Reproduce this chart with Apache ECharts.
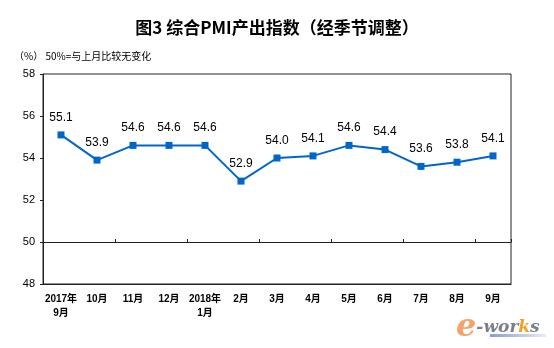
<!DOCTYPE html>
<html><head><meta charset="utf-8">
<script src="https://cdn.jsdelivr.net/npm/echarts@6/dist/echarts.min.js"></script>
<style>html,body{margin:0;padding:0;background:#fff}#c{width:554px;height:348px}</style>
</head><body><div id="c"></div>
<script>
const categories = ['2017年\n9月','10月','11月','12月','2018年\n1月','2月','3月','4月','5月','6月','7月','8月','9月'];
const values = [55.1, 53.9, 54.6, 54.6, 54.6, 52.9, 54.0, 54.1, 54.6, 54.4, 53.6, 53.8, 54.1];
const yTicks = [48, 50, 52, 54, 56, 58];
const titleText = '图3 综合PMI产出指数（经季节调整）';
const noteText = '（%） 50%=与上月比较无变化';

const chart = echarts.init(document.getElementById('c'), null, {renderer: 'canvas'});
const ff = '"Liberation Sans", Arial, "Noto Sans CJK SC", sans-serif';
chart.setOption({
  animation: false,
  backgroundColor: '#fff',
  title: {
    text: titleText, left: 'center', top: 14,
    textStyle: {fontSize: 17, fontWeight: 'bold', color: '#000', fontFamily: '"Noto Sans CJK SC", sans-serif'}
  },
  graphic: [
    {type: 'text', left: 14, top: 51, style: {text: noteText, fontSize: 10, fill: '#000', fontFamily: '"Noto Sans CJK SC", sans-serif'}},
    {type: 'rect', left: 490, top: 334, shape: {width: 56, height: 3}, style: {
      fill: new echarts.graphic.LinearGradient(0, 0, 1, 0, [{offset: 0, color: '#8a9ad0'}, {offset: 1, color: '#e8ecf6'}])
    }},
    {type: 'text', left: 456, top: 312, style: {
      text: '{e|e}{w|-wor}{k|k}{w|s}',
      rich: {
        e: {fontSize: 32, fontStyle: 'italic', fontWeight: 'bold', fill: '#f4a46a', fontFamily: 'DejaVu Serif'},
        w: {fontSize: 17, fontStyle: 'italic', fontWeight: 'bold', fill: '#7a7f8c', fontFamily: 'DejaVu Serif'},
        k: {fontSize: 17, fontStyle: 'italic', fontWeight: 'bold', fill: '#f5a020', fontFamily: 'DejaVu Serif'}
      }
    }}
  ],
  grid: {left: 43, right: 43, top: 74, bottom: 64, show: true, borderColor: '#222', borderWidth: 1},
  xAxis: [
    {
      type: 'category', data: categories, boundaryGap: true,
      axisLine: {show: true, lineStyle: {color: '#222'}},
      axisTick: {show: false},
      axisLabel: {fontSize: 10, fontWeight: 'bold', color: '#000', margin: 8, lineHeight: 14, fontFamily: ff, interval: 0}
    },
    {
      type: 'category', data: categories, boundaryGap: true, position: 'bottom', offset: -42,
      axisLine: {show: true, lineStyle: {color: '#222'}},
      axisTick: {show: true, inside: true, length: 3, lineStyle: {color: '#222'}},
      axisLabel: {show: false}
    }
  ],
  yAxis: {
    type: 'value', min: 48, max: 58, interval: 2,
    axisLine: {show: true, lineStyle: {color: '#222'}},
    axisTick: {show: true, length: 3, lineStyle: {color: '#222'}},
    splitLine: {show: false},
    axisLabel: {fontSize: 11, color: '#000', margin: 8, fontFamily: ff,
      formatter: v => yTicks.includes(v) ? String(v) : ''}
  },
  series: [{
    type: 'line', data: values, xAxisIndex: 0,
    symbol: 'rect', symbolSize: 7,
    lineStyle: {color: '#0066cc', width: 2},
    itemStyle: {color: '#0066cc'},
    label: {show: true, position: 'top', distance: 8, fontSize: 12, color: '#000', fontFamily: ff,
      formatter: p => p.value.toFixed(1)}
  }]
});
</script></body></html>
